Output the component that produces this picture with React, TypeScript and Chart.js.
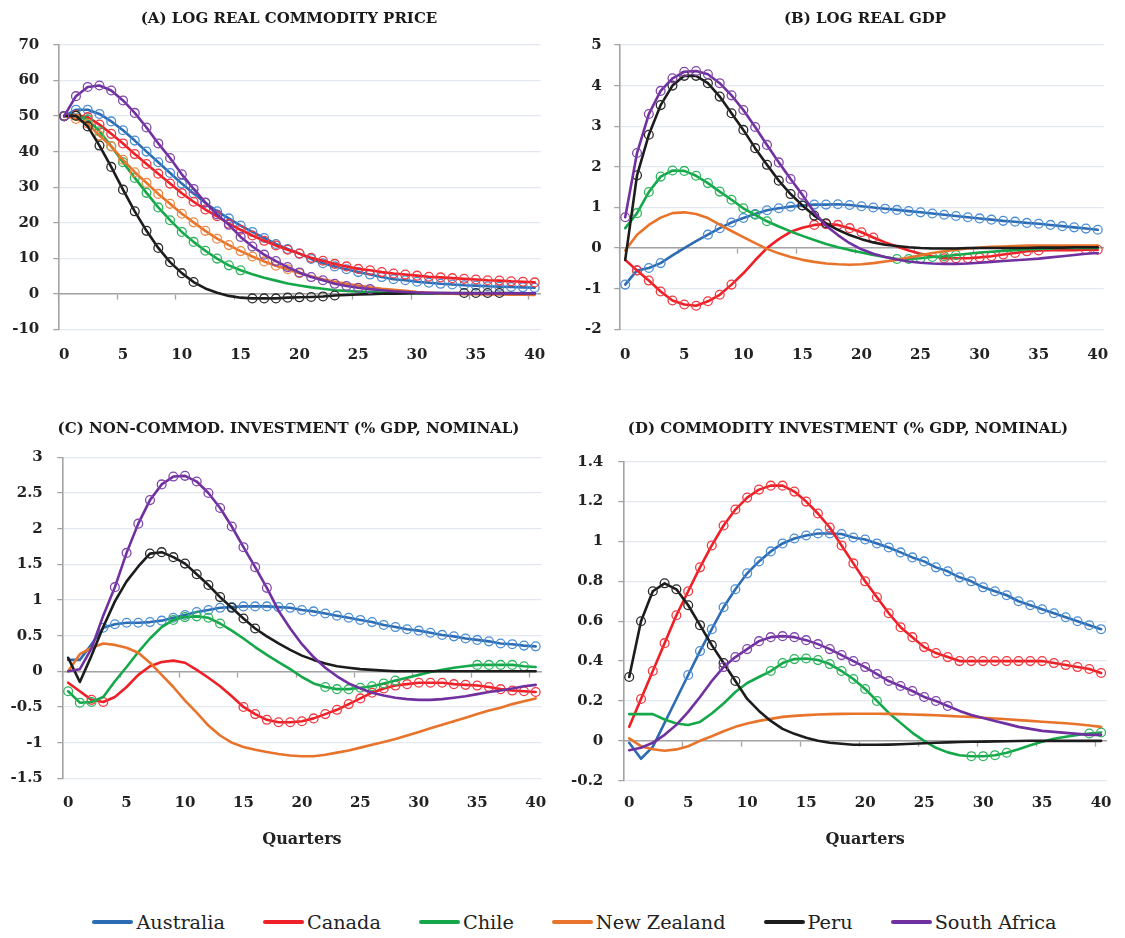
import React, { useEffect, useRef } from 'react';
import { Chart, registerables } from 'chart.js';

Chart.register(...registerables);

// ---------- categories ----------
const quarters: string[] = Array.from({ length: 41 }, (_, i) => String(i));
const countries = ['Australia', 'Canada', 'Chile', 'New Zealand', 'Peru', 'South Africa'];

// ---------- (A) log real commodity price ----------
const priceAustralia = [50, 51.8, 51.8, 50.6, 48.5, 46.0, 43.1, 40.0, 37.0, 34.0, 31.0, 28.2, 25.6, 23.2, 21.2, 19.2, 17.4, 15.7, 14.0, 12.6, 11.3, 9.8, 8.6, 7.7, 6.9, 6.1, 5.4, 4.7, 4.1, 3.8, 3.4, 3.1, 2.8, 2.6, 2.4, 2.3, 2.1, 2.0, 1.9, 1.8, 1.7];
const priceCanada = [50, 50.3, 49.7, 47.6, 45.0, 42.3, 39.3, 36.5, 33.8, 31.0, 28.3, 25.9, 23.7, 21.8, 19.7, 18.0, 16.4, 14.9, 13.6, 12.4, 11.3, 10.1, 9.3, 8.4, 7.7, 7.0, 6.6, 6.1, 5.7, 5.4, 5.1, 4.8, 4.6, 4.4, 4.2, 4.0, 3.8, 3.7, 3.5, 3.4, 3.2];
const priceChile = [50, 50.1, 49.0, 45.7, 41.5, 37.0, 32.6, 28.4, 24.3, 20.7, 17.4, 14.6, 12.1, 9.9, 8.0, 6.6, 5.5, 4.5, 3.7, 2.9, 2.3, 1.8, 1.4, 1.0, 0.8, 0.6, 0.45, 0.35, 0.25, 0.2, 0.15, 0.1, 0.1, 0.05, 0.05, 0, 0, 0, 0, 0, 0];
const priceNewZealand = [50, 49.2, 47.9, 44.5, 41.5, 37.7, 34.2, 31.2, 28.1, 25.3, 22.5, 20.1, 17.7, 15.5, 13.7, 12.0, 10.5, 9.1, 7.9, 6.9, 5.8, 4.9, 4.1, 3.4, 2.8, 2.3, 1.8, 1.4, 1.1, 0.8, 0.5, 0.3, 0.1, 0, -0.1, -0.15, -0.2, -0.2, -0.25, -0.25, -0.3];
const pricePeru = [50, 50.1, 47.1, 41.7, 35.7, 29.3, 23.2, 17.7, 12.9, 8.9, 5.8, 3.3, 1.5, 0.3, -0.6, -1.1, -1.3, -1.3, -1.3, -1.1, -1.0, -0.9, -0.75, -0.5, -0.35, -0.2, -0.1, 0, 0.05, 0.1, 0.15, 0.15, 0.2, 0.2, 0.2, 0.2, 0.2, 0.2, 0.2, 0.15, 0.15];
const priceSouthAfrica = [50, 55.6, 58.2, 58.6, 57.2, 54.4, 50.9, 46.8, 42.3, 38.2, 33.6, 29.5, 25.7, 22.3, 19.4, 16.0, 13.3, 11.0, 9.2, 7.5, 6.0, 4.7, 3.8, 2.8, 2.2, 1.7, 1.3, 1.0, 0.7, 0.5, 0.35, 0.25, 0.2, 0.15, 0.1, 0.1, 0.1, 0.1, 0.1, 0.1, 0.1];
const priceMarks = [[[0, 40]], [[0, 40]], [[0, 15]], [[0, 20]], [[0, 11], [16, 23], [34, 37]], [[0, 26]]];

// ---------- (B) log real GDP ----------
const gdpAustralia = [-0.90, -0.55, -0.49, -0.37, -0.18, 0.0, 0.17, 0.33, 0.49, 0.63, 0.74, 0.84, 0.93, 0.98, 1.02, 1.05, 1.07, 1.07, 1.08, 1.06, 1.03, 1.0, 0.97, 0.94, 0.91, 0.88, 0.85, 0.82, 0.79, 0.76, 0.73, 0.70, 0.67, 0.65, 0.62, 0.60, 0.57, 0.54, 0.51, 0.48, 0.45];
const gdpCanada = [-0.29, -0.55, -0.80, -1.07, -1.29, -1.39, -1.42, -1.31, -1.15, -0.90, -0.62, -0.30, 0.0, 0.22, 0.40, 0.50, 0.57, 0.59, 0.57, 0.49, 0.39, 0.26, 0.14, 0.04, -0.06, -0.14, -0.20, -0.25, -0.25, -0.25, -0.23, -0.20, -0.16, -0.12, -0.08, -0.06, -0.05, -0.05, -0.05, -0.04, -0.04];
const gdpChile = [0.49, 0.86, 1.38, 1.76, 1.91, 1.90, 1.78, 1.60, 1.39, 1.19, 0.98, 0.82, 0.66, 0.53, 0.41, 0.30, 0.20, 0.10, 0.02, -0.05, -0.11, -0.17, -0.22, -0.27, -0.27, -0.25, -0.22, -0.20, -0.17, -0.14, -0.11, -0.09, -0.07, -0.05, -0.03, -0.02, -0.01, 0, 0, 0, 0];
const gdpNewZealand = [-0.06, 0.33, 0.57, 0.75, 0.86, 0.88, 0.84, 0.74, 0.58, 0.42, 0.27, 0.12, -0.02, -0.13, -0.22, -0.29, -0.34, -0.38, -0.40, -0.41, -0.40, -0.37, -0.33, -0.29, -0.23, -0.18, -0.12, -0.08, -0.04, -0.01, 0.01, 0.03, 0.04, 0.05, 0.06, 0.06, 0.06, 0.06, 0.06, 0.06, 0.06];
const gdpPeru = [-0.29, 1.79, 2.79, 3.52, 4.0, 4.24, 4.24, 4.06, 3.73, 3.32, 2.91, 2.46, 2.05, 1.66, 1.33, 1.05, 0.80, 0.61, 0.45, 0.32, 0.22, 0.14, 0.08, 0.05, 0.02, 0.0, -0.01, -0.01, -0.01, 0, 0, 0, 0, 0, 0, 0.01, 0.01, 0.01, 0.02, 0.02, 0.02];
const gdpSouthAfrica = [0.76, 2.34, 3.30, 3.87, 4.18, 4.34, 4.36, 4.28, 4.06, 3.76, 3.40, 2.98, 2.54, 2.11, 1.70, 1.31, 0.88, 0.55, 0.32, 0.12, -0.03, -0.14, -0.22, -0.28, -0.33, -0.36, -0.38, -0.39, -0.39, -0.38, -0.36, -0.34, -0.32, -0.30, -0.28, -0.26, -0.23, -0.20, -0.17, -0.14, -0.12];
const gdpMarks = [[[0, 3], [7, 40]], [[1, 9], [16, 21], [27, 35], [39, 40]], [[1, 12], [23, 28]], [], [[1, 17]], [[0, 15]]];

// ---------- (C) non-commodity investment ----------
const nonComAustralia = [0.16, 0.16, 0.38, 0.61, 0.66, 0.68, 0.68, 0.69, 0.71, 0.75, 0.79, 0.83, 0.86, 0.89, 0.90, 0.91, 0.91, 0.91, 0.90, 0.89, 0.86, 0.84, 0.81, 0.78, 0.75, 0.72, 0.69, 0.65, 0.62, 0.59, 0.57, 0.54, 0.51, 0.49, 0.46, 0.44, 0.42, 0.39, 0.38, 0.36, 0.35];
const nonComCanada = [-0.16, -0.28, -0.40, -0.43, -0.36, -0.22, -0.05, 0.07, 0.13, 0.15, 0.12, 0.02, -0.09, -0.21, -0.35, -0.50, -0.60, -0.68, -0.715, -0.715, -0.70, -0.66, -0.60, -0.54, -0.46, -0.38, -0.30, -0.24, -0.20, -0.18, -0.16, -0.16, -0.16, -0.18, -0.19, -0.20, -0.22, -0.25, -0.27, -0.28, -0.29];
const nonComChile = [-0.28, -0.44, -0.43, -0.36, -0.14, 0.06, 0.27, 0.46, 0.62, 0.72, 0.76, 0.77, 0.75, 0.67, 0.57, 0.46, 0.34, 0.23, 0.13, 0.03, -0.08, -0.17, -0.22, -0.25, -0.25, -0.23, -0.21, -0.17, -0.13, -0.09, -0.05, -0.01, 0.02, 0.05, 0.07, 0.09, 0.09, 0.09, 0.09, 0.07, 0.06];
const nonComNewZealand = [0.0, 0.24, 0.33, 0.39, 0.37, 0.33, 0.26, 0.12, -0.05, -0.22, -0.41, -0.58, -0.76, -0.90, -1.0, -1.06, -1.10, -1.13, -1.16, -1.18, -1.19, -1.19, -1.17, -1.14, -1.11, -1.07, -1.03, -0.99, -0.95, -0.90, -0.85, -0.80, -0.75, -0.70, -0.65, -0.60, -0.55, -0.51, -0.46, -0.42, -0.38];
const nonComPeru = [0.19, -0.15, 0.22, 0.62, 0.98, 1.26, 1.47, 1.65, 1.67, 1.60, 1.51, 1.36, 1.21, 1.04, 0.89, 0.74, 0.60, 0.49, 0.39, 0.30, 0.22, 0.16, 0.11, 0.07, 0.05, 0.03, 0.02, 0.01, 0, 0, 0, 0, 0, 0, 0, 0, 0, 0, 0, 0, 0];
const nonComSouthAfrica = [0.0, 0.03, 0.32, 0.78, 1.18, 1.66, 2.07, 2.40, 2.62, 2.73, 2.74, 2.66, 2.50, 2.29, 2.03, 1.74, 1.46, 1.17, 0.85, 0.60, 0.38, 0.20, 0.05, -0.07, -0.17, -0.24, -0.30, -0.34, -0.37, -0.39, -0.40, -0.40, -0.39, -0.37, -0.35, -0.32, -0.29, -0.27, -0.24, -0.21, -0.19];
const nonComMarks = [[[3, 40]], [[2, 3], [15, 40]], [[0, 2], [9, 13], [22, 28], [35, 39]], [], [[7, 16]], [[4, 17]]];

// ---------- (D) commodity investment ----------
const comAustralia = [-0.01, -0.09, -0.03, 0.09, 0.21, 0.33, 0.45, 0.56, 0.67, 0.76, 0.84, 0.90, 0.95, 0.99, 1.015, 1.03, 1.04, 1.04, 1.037, 1.02, 1.01, 0.99, 0.97, 0.945, 0.92, 0.90, 0.87, 0.85, 0.82, 0.80, 0.77, 0.75, 0.73, 0.70, 0.68, 0.66, 0.64, 0.62, 0.60, 0.58, 0.56];
const comCanada = [0.07, 0.21, 0.35, 0.49, 0.63, 0.75, 0.87, 0.98, 1.08, 1.16, 1.22, 1.26, 1.28, 1.28, 1.25, 1.20, 1.14, 1.07, 0.98, 0.89, 0.80, 0.72, 0.64, 0.57, 0.52, 0.47, 0.44, 0.42, 0.40, 0.40, 0.40, 0.40, 0.40, 0.40, 0.40, 0.40, 0.39, 0.38, 0.37, 0.36, 0.34];
const comChile = [0.134, 0.134, 0.134, 0.107, 0.087, 0.079, 0.095, 0.137, 0.187, 0.245, 0.29, 0.32, 0.35, 0.39, 0.41, 0.413, 0.405, 0.385, 0.35, 0.31, 0.26, 0.20, 0.14, 0.09, 0.04, 0.0, -0.035, -0.058, -0.072, -0.077, -0.077, -0.072, -0.06, -0.042, -0.022, -0.005, 0.01, 0.02, 0.03, 0.037, 0.042];
const comNewZealand = [0.012, -0.027, -0.042, -0.05, -0.043, -0.027, 0.0, 0.023, 0.048, 0.07, 0.087, 0.10, 0.11, 0.12, 0.125, 0.129, 0.132, 0.134, 0.135, 0.136, 0.136, 0.136, 0.135, 0.134, 0.132, 0.13, 0.128, 0.125, 0.122, 0.12, 0.116, 0.112, 0.108, 0.104, 0.10, 0.096, 0.092, 0.088, 0.083, 0.077, 0.07];
const comPeru = [0.32, 0.60, 0.75, 0.79, 0.76, 0.68, 0.58, 0.48, 0.39, 0.30, 0.21, 0.15, 0.10, 0.06, 0.035, 0.015, 0.0, -0.01, -0.015, -0.02, -0.02, -0.02, -0.019, -0.017, -0.015, -0.012, -0.01, -0.008, -0.006, -0.005, -0.004, -0.003, -0.002, -0.001, 0, 0, 0, 0, 0, 0, 0];
const comSouthAfrica = [-0.047, -0.035, -0.01, 0.03, 0.08, 0.145, 0.22, 0.30, 0.37, 0.42, 0.46, 0.50, 0.52, 0.525, 0.52, 0.505, 0.485, 0.46, 0.43, 0.40, 0.37, 0.335, 0.30, 0.275, 0.25, 0.22, 0.20, 0.175, 0.15, 0.13, 0.115, 0.10, 0.085, 0.07, 0.06, 0.05, 0.045, 0.04, 0.035, 0.03, 0.03];
const comMarks = [[[5, 40]], [[1, 40]], [[12, 21], [29, 32], [39, 40]], [], [[0, 9]], [[8, 27]]];

// ---------- styling ----------
const LINE_COLORS = ['#2d6cb2', '#ee1f26', '#15a84a', '#e8732a', '#1c1c1c', '#7030a0'];
const MARK_COLORS = ['#4a8ed5', '#f03a40', '#2db45d', '#ec8a45', '#2a2a2a', '#8146ac'];
const SERIF = "'DejaVu Serif', 'Liberation Serif', serif";
const AXIS = '#a3a3a3';
const GRID = '#e2e7f0';
const TEXT = '#222222';

type PanelCfg = {
  title: string;
  titleX: number; titleY: number;
  series: number[][];
  marks: number[][][];
  yMin: number; yMax: number; yStep: number;
  left: number; top: number; width: number; height: number;
  padTop: number; padRight: number; padBottom: number;
  yWidth: number; yPad: number;
  xPad: number; xHeight: number; showQuarters: boolean;
};

const panels: PanelCfg[] = [
  {
    title: '(A) LOG REAL COMMODITY PRICE', titleX: 289, titleY: 17.5,
    series: [priceAustralia, priceCanada, priceChile, priceNewZealand, pricePeru, priceSouthAfrica],
    marks: priceMarks, yMin: -10, yMax: 70, yStep: 10,
    left: 0, top: 0, width: 562, height: 380,
    padTop: 45, padRight: 14.5, padBottom: 10.7, yWidth: 58.3, yPad: 14,
    xPad: 16.7, xHeight: 40, showQuarters: false,
  },
  {
    title: '(B) LOG REAL GDP', titleX: 865, titleY: 17.5,
    series: [gdpAustralia, gdpCanada, gdpChile, gdpNewZealand, gdpPeru, gdpSouthAfrica],
    marks: gdpMarks, yMin: -2, yMax: 5, yStep: 1,
    left: 562, top: 0, width: 563, height: 380,
    padTop: 45, padRight: 10, padBottom: 10.7, yWidth: 57.3, yPad: 12.6,
    xPad: 16.7, xHeight: 40, showQuarters: false,
  },
  {
    title: '(C) NON-COMMOD. INVESTMENT (% GDP, NOMINAL)', titleX: 288.5, titleY: 428,
    series: [nonComAustralia, nonComCanada, nonComChile, nonComNewZealand, nonComPeru, nonComSouthAfrica],
    marks: nonComMarks, yMin: -1.5, yMax: 3, yStep: 0.5,
    left: 0, top: 380, width: 562, height: 480,
    padTop: 77.3, padRight: 15.5, padBottom: 7.3, yWidth: 62.3, yPad: 14.5,
    xPad: 15.7, xHeight: 74.4, showQuarters: true,
  },
  {
    title: '(D) COMMODITY INVESTMENT (% GDP, NOMINAL)', titleX: 848, titleY: 428,
    series: [comAustralia, comCanada, comChile, comNewZealand, comPeru, comSouthAfrica],
    marks: comMarks, yMin: -0.2, yMax: 1.4, yStep: 0.2,
    left: 562, top: 380, width: 563, height: 480,
    padTop: 81.7, padRight: 13.3, padBottom: 7.3, yWidth: 61.3, yPad: 15,
    xPad: 13.3, xHeight: 72, showQuarters: true,
  },
];

function inRanges(i: number, ranges: number[][]): boolean {
  return ranges.some(([a, b]) => i >= a && i <= b);
}

function Panel({ cfg }: { cfg: PanelCfg }) {
  const ref = useRef<HTMLCanvasElement | null>(null);
  useEffect(() => {
    if (!ref.current) return;
    const datasets = cfg.series.map((values, k) => ({
      label: countries[k],
      data: values,
      borderColor: LINE_COLORS[k],
      borderWidth: 2.6,
      borderJoinStyle: 'round' as const,
      borderCapStyle: 'round' as const,
      tension: 0,
      fill: false,
      order: 5 - k,
      pointRadius: (ctx: any) => (inRanges(ctx.dataIndex, cfg.marks[k]) ? 4.4 : 0),
      pointHoverRadius: 0,
      pointBorderWidth: 1.3,
      pointBorderColor: MARK_COLORS[k],
      pointBackgroundColor: 'rgba(0,0,0,0)',
    }));
    const tickFont = { family: SERIF, weight: 'bold' as const, size: 15 };
    const chart = new Chart(ref.current, {
      type: 'line',
      data: { labels: quarters, datasets },
      options: {
        responsive: false,
        animation: false,
        events: [],
        layout: { padding: { left: 0, right: cfg.padRight, top: cfg.padTop, bottom: cfg.padBottom } },
        plugins: {
          legend: { display: false },
          tooltip: { enabled: false },
          title: { display: false },
        },
        scales: {
          x: {
            type: 'category',
            offset: true,
            grid: { display: false, drawTicks: false },
            border: { display: false },
            ticks: {
              autoSkip: false,
              maxRotation: 0,
              minRotation: 0,
              padding: cfg.xPad,
              color: TEXT,
              font: tickFont,
              callback: (_v: any, i: number) => (i % 5 === 0 ? quarters[i] : null),
            },
            title: {
              display: cfg.showQuarters,
              text: 'Quarters',
              color: TEXT,
              font: { family: SERIF, weight: 'bold', size: 16, lineHeight: 1.2 },
              padding: { top: 0, bottom: 3 },
            },
            afterFit: (s: any) => { s.height = cfg.xHeight; },
          },
          x0: {
            type: 'category',
            axis: 'x',
            position: { y: 0 },
            offset: true,
            ticks: { display: false },
            grid: {
              display: true,
              offset: true,
              drawOnChartArea: false,
              drawTicks: true,
              tickLength: 5,
              tickWidth: 1.3,
              tickColor: (ctx: any) => (ctx.index % 5 === 0 ? AXIS : 'rgba(0,0,0,0)'),
            },
            border: { display: true, color: AXIS, width: 1.6 },
            afterFit: (s: any) => { s.height = 0; },
          },
          y: {
            type: 'linear',
            min: cfg.yMin,
            max: cfg.yMax,
            ticks: {
              stepSize: cfg.yStep,
              padding: cfg.yPad,
              color: TEXT,
              font: tickFont,
              callback: (v: any) => String(Math.round(Number(v) * 100) / 100),
            },
            grid: { color: GRID, lineWidth: 1.2, drawTicks: true, tickLength: 5, tickColor: AXIS, tickWidth: 1.3 },
            border: { display: true, color: AXIS, width: 1.6 },
            afterFit: (s: any) => { s.width = cfg.yWidth; },
          },
        },
      } as any,
    });
    return () => chart.destroy();
  }, [cfg]);
  return (
    <canvas
      ref={ref}
      width={cfg.width}
      height={cfg.height}
      style={{ position: 'absolute', left: cfg.left, top: cfg.top, width: cfg.width, height: cfg.height }}
    />
  );
}

function PanelTitle({ cfg }: { cfg: PanelCfg }) {
  return (
    <div
      style={{
        position: 'absolute', left: cfg.titleX - 300, top: cfg.titleY - 10, width: 600, height: 20,
        lineHeight: '20px', textAlign: 'center', whiteSpace: 'nowrap',
        fontFamily: SERIF, fontWeight: 'bold', fontSize: 15, color: '#1a1a1a',
      }}
    >
      {cfg.title}
    </div>
  );
}

function Legend() {
  return (
    <div
      style={{
        position: 'absolute', left: 12, top: 906, width: 1125, height: 32,
        display: 'flex', justifyContent: 'center', alignItems: 'center', gap: 38,
        fontFamily: SERIF, fontSize: 19.3, color: TEXT,
      }}
    >
      {countries.map((c, k) => (
        <div key={c} style={{ display: 'flex', alignItems: 'center' }}>
          <div style={{ width: 41, height: 4, borderRadius: 2, background: LINE_COLORS[k], marginRight: 3 }} />
          <span>{c}</span>
        </div>
      ))}
    </div>
  );
}

export default function App() {
  return (
    <div style={{ position: 'absolute', left: 0, top: 0, width: 1125, height: 938, background: '#ffffff', overflow: 'hidden' }}>
      {panels.map((p) => (
        <Panel key={p.title} cfg={p} />
      ))}
      {panels.map((p) => (
        <PanelTitle key={'t' + p.title} cfg={p} />
      ))}
      <Legend />
    </div>
  );
}
